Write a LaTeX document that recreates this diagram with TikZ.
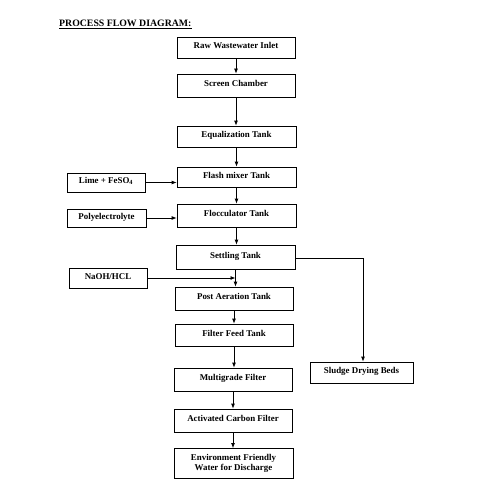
\documentclass[tikz,border=0pt]{standalone}
\usepackage{fontspec}
\setmainfont{Liberation Serif}
\usetikzlibrary{arrows.meta}
\begin{document}
\begin{tikzpicture}[x=1pt,y=-1pt,
  box/.style={draw, line width=0.8pt, inner sep=0pt, align=center,
    text height=6.2pt, text depth=3.6pt, font=\fontsize{8.9}{10.5}\selectfont\bfseries},
  flow/.style={line width=0.8pt, -{Latex[length=5pt,width=4pt]}}]
\useasboundingbox (0,0) rectangle (500,500);
\node[anchor=base west, inner sep=0pt, font=\fontsize{9.8}{11}\selectfont\bfseries] (title) at (59,27) {\underline{PROCESS FLOW DIAGRAM:}};
\node[box, minimum width=118pt, minimum height=21pt] (raw) at (236,47.5) {Raw Wastewater Inlet};
\node[box, minimum width=118pt, minimum height=23pt] (screen) at (236,85.5) {Screen Chamber};
\node[box, minimum width=119pt, minimum height=21pt] (equal) at (236.5,136.5) {Equalization Tank};
\node[box, minimum width=119pt, minimum height=20pt] (flash) at (236.5,177) {Flash mixer Tank};
\node[box, minimum width=119pt, minimum height=23pt] (floc) at (236.5,215.5) {Flocculator Tank};
\node[box, minimum width=119pt, minimum height=24pt] (settle) at (235.5,257) {Settling Tank};
\node[box, minimum width=118pt, minimum height=23pt] (post) at (234,298.5) {Post Aeration Tank};
\node[box, minimum width=118pt, minimum height=22pt] (feed) at (234,335) {Filter Feed Tank};
\node[box, minimum width=118pt, minimum height=23pt] (multi) at (233,379.5) {Multigrade Filter};
\node[box, minimum width=118pt, minimum height=23pt] (carbon) at (233,420.5) {Activated Carbon Filter};
\node[box, minimum width=119pt, minimum height=30pt, text height=, text depth=] (env) at (233.5,463.5) {Environment Friendly\\Water for Discharge};
\node[box, minimum width=78pt, minimum height=19pt] (lime) at (106,182.5) {Lime + FeSO\textsubscript{4}};
\node[box, minimum width=79pt, minimum height=18pt] (poly) at (106.5,218) {Polyelectrolyte};
\node[box, minimum width=78pt, minimum height=20pt] (naoh) at (108,278) {NaOH/HCL};
\node[box, minimum width=103pt, minimum height=21pt] (sludge) at (361.5,372.5) {Sludge Drying Beds};
\draw[flow] (raw.south) -- (raw.south |- screen.north);
\draw[flow] (screen.south) -- (screen.south |- equal.north);
\draw[flow] (equal.south) -- (equal.south |- flash.north);
\draw[flow] (flash.south) -- (flash.south |- floc.north);
\draw[flow] (floc.south) -- (floc.south |- settle.north);
\draw[flow] (settle.south) -- (settle.south |- post.north);
\draw[flow] (post.south) -- (post.south |- feed.north);
\draw[flow] (feed.south) -- (feed.south |- multi.north);
\draw[flow] (multi.south) -- (multi.south |- carbon.north);
\draw[flow] (carbon.south) -- (carbon.south |- env.north);
\draw[flow] (lime.east) -- (lime.east -| flash.west);
\draw[flow] (poly.east) -- (poly.east -| floc.west);
\draw[flow] (naoh.east) -- (naoh.east -| settle.south);
\coordinate (bend) at (363,258);
\draw[flow] (settle.east |- bend) -- (bend) -- (bend |- sludge.north);
\end{tikzpicture}
\end{document}
